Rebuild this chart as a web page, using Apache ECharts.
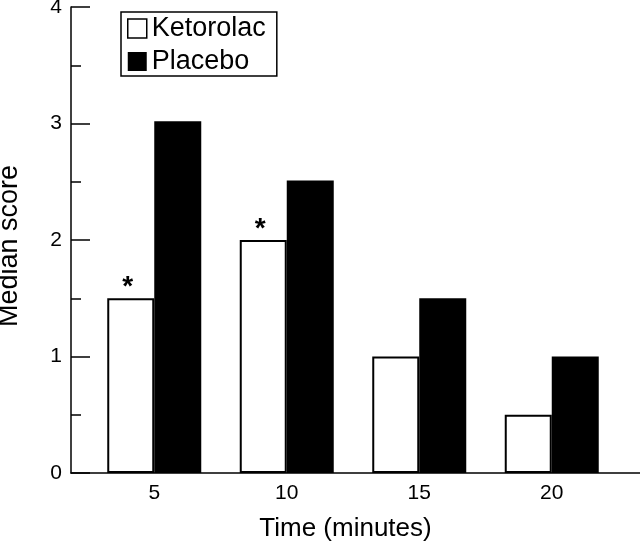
<!DOCTYPE html>
<html>
<head>
<meta charset="utf-8">
<script src="https://cdn.jsdelivr.net/npm/echarts@6/dist/echarts.min.js"></script>
<style>
html,body{margin:0;padding:0;background:#fff;}
#chart{width:640px;height:545px;}
</style>
</head>
<body>
<div id="chart"></div>
<script>
var categories = ['5', '10', '15', '20'];
var ketorolac = [1.5, 2.0, 1.0, 0.5];
var placebo = [3.02, 2.51, 1.5, 1.0];
var significant = [true, true, false, false];
var yTicks = [0, 1, 2, 3, 4];

var FONT = '"Liberation Sans", Arial, Helvetica, sans-serif';
var chart = echarts.init(document.getElementById('chart'), null, {renderer: 'canvas'});

var ketData = ketorolac.map(function (v, i) {
  return significant[i]
    ? {value: v, label: {show: true, position: 'top', formatter: '*', distance: 0, offset: [-3, 3], fontSize: 28, fontWeight: 'bold', color: '#000', fontFamily: FONT}}
    : v;
});

var option = {
  animation: false,
  backgroundColor: '#fff',
  textStyle: {fontFamily: FONT, color: '#000'},
  grid: [
    {left: 71, right: 0, top: 7, bottom: 72, outerBoundsMode: 'none', containLabel: false},
    {left: 88, right: 22, top: 7, bottom: 72, outerBoundsMode: 'none', containLabel: false}
  ],
  legend: {
    left: 121, top: 12,
    orient: 'vertical',
    itemWidth: 19, itemHeight: 19, itemGap: 6,
    padding: [3, 11, 1, 6],
    borderColor: '#000', borderWidth: 1.5,
    textStyle: {fontSize: 27, color: '#000', fontFamily: FONT},
    data: [
      {name: 'Ketorolac', icon: 'rect', itemStyle: {color: '#fff', borderColor: '#000', borderWidth: 1.5}},
      {name: 'Placebo', icon: 'rect', itemStyle: {color: '#000'}}
    ]
  },
  xAxis: [
    {
      gridIndex: 0, type: 'value', min: 0, max: 1,
      axisLine: {show: true, lineStyle: {color: '#000', width: 1.5}},
      axisTick: {show: false}, axisLabel: {show: false}, splitLine: {show: false},
      name: 'Time (minutes)', nameLocation: 'middle', nameGap: 43,
      nameTextStyle: {fontSize: 26, color: '#000', fontFamily: FONT, padding: [0, 20, 0, 0]}
    },
    {
      gridIndex: 1, type: 'category', data: categories,
      axisLine: {show: false}, axisTick: {show: false},
      axisLabel: {fontSize: 21, color: '#000', margin: 10, fontFamily: FONT},
      splitLine: {show: false}
    }
  ],
  yAxis: [
    {
      gridIndex: 0, type: 'value', min: yTicks[0], max: yTicks[yTicks.length - 1], interval: 1,
      axisLine: {show: true, lineStyle: {color: '#000', width: 1.5}},
      axisTick: {show: true, inside: true, length: 19, lineStyle: {color: '#000', width: 1.5}},
      minorTick: {show: true, splitNumber: 2, length: 10, lineStyle: {color: '#000', width: 1.5}},
      axisLabel: {fontSize: 21, color: '#000', margin: 9, fontFamily: FONT},
      splitLine: {show: false},
      name: 'Median score', nameLocation: 'middle', nameGap: 48,
      nameTextStyle: {fontSize: 27, color: '#000', fontFamily: FONT, padding: [0, 12, 0, 0]}
    },
    {
      gridIndex: 1, type: 'value', min: 0, max: 4, show: false
    }
  ],
  series: [
    {
      name: 'Ketorolac', type: 'bar', xAxisIndex: 1, yAxisIndex: 1,
      barWidth: 47, barGap: '0%',
      itemStyle: {color: '#fff', borderColor: '#000', borderWidth: 2},
      data: ketData
    },
    {
      name: 'Placebo', type: 'bar', xAxisIndex: 1, yAxisIndex: 1,
      barWidth: 47, barGap: '0%',
      itemStyle: {color: '#000'},
      data: placebo
    }
  ]
};
chart.setOption(option);
</script>
</body>
</html>
